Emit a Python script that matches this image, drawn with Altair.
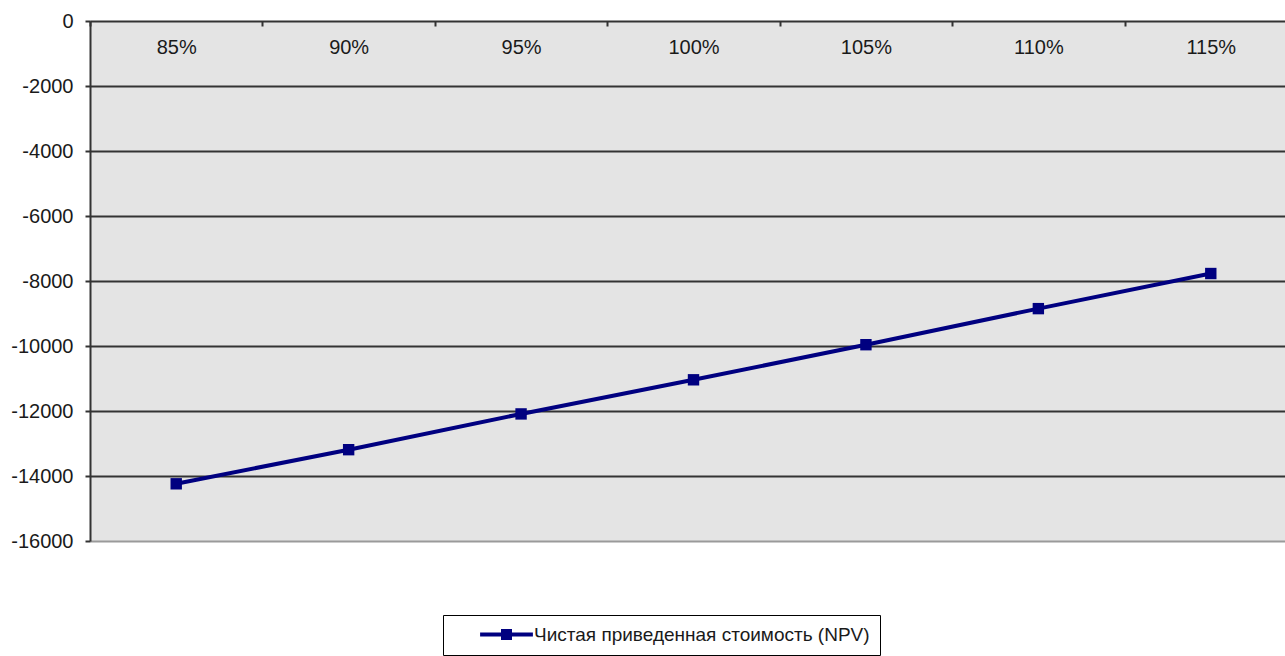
import altair as alt
import pandas as pd

categories = ["85%", "90%", "95%", "100%", "105%", "110%", "115%"]
npv = [-14240, -13190, -12090, -11040, -9960, -8850, -7770]
series_name = "Чистая приведенная стоимость (NPV)"
y_ticks = [0, -2000, -4000, -6000, -8000, -10000, -12000, -14000, -16000]

df = pd.DataFrame({"cat": categories, "npv": npv, "series": [series_name] * len(categories)})

FONT = "Liberation Sans"
NAVY = "#000080"

x_enc = alt.X(
    "cat:O",
    sort=categories,
    scale=alt.Scale(range=[0, 1207], paddingInner=0, paddingOuter=0),
    axis=alt.Axis(
        title=None,
        orient="bottom",
        offset=-520,
        labelAngle=0,
        tickBand="extent",
        domain=False,
        ticks=True,
        tickSize=5,
        tickColor="#333333",
        tickWidth=2,
        labelPadding=11,
        labelFontSize=20,
        labelFont=FONT,
        labelColor="#1a1a1a",
        grid=False,
    ),
)

y_enc = alt.Y(
    "npv:Q",
    scale=alt.Scale(domain=[-16000, 0], nice=False, zero=False),
    axis=alt.Axis(
        title=None,
        values=y_ticks,
        labelExpr="'' + datum.value",
        tickSize=5,
        tickColor="#333333",
        tickWidth=2,
        labelPadding=12,
        labelFontSize=20,
        labelFont=FONT,
        labelColor="#1a1a1a",
        domainColor="#333333",
        domainWidth=2,
        grid=True,
        gridColor=alt.condition("datum.value <= -16000", alt.value("#9a9a9a"), alt.value("#333333")),
        gridWidth=2,
        gridOpacity=1,
    ),
)

line = alt.Chart(df).mark_line(color=NAVY, strokeWidth=4).encode(x=x_enc, y=y_enc)

points = alt.Chart(df).mark_square(size=130, filled=True, opacity=1).encode(
    x=x_enc,
    y=y_enc,
    color=alt.Color(
        "series:N",
        scale=alt.Scale(range=[NAVY]),
        legend=alt.Legend(
            title=None,
            orient="none",
            legendX=353,
            legendY=594,
            strokeColor="#000000",
            fillColor="#ffffff",
            padding=10,
            symbolOffset=44,
            symbolType="M-4.8,-0.36L4.8,-0.36L4.8,0.36L-4.8,0.36Z M-1,-1L1,-1L1,1L-1,1Z",
            symbolSize=121,
            symbolStrokeWidth=0,
            symbolOpacity=1,
            labelFont=FONT,
            labelFontSize=19,
            labelColor="#1a1a1a",
            labelOffset=18,
            labelLimit=600,
        ),
    ),
)

chart = (
    alt.layer(line, points)
    .properties(
        width=1195,
        height=520,
        autosize=alt.AutoSizeParams(type="none"),
        padding={"left": 90, "top": 21, "right": 0, "bottom": 115},
    )
    .configure(background="#ffffff")
    .configure_view(fill="#e4e4e4", stroke=None)
)

chart.save("out.html", embed_options={"renderer": "svg", "actions": False})
